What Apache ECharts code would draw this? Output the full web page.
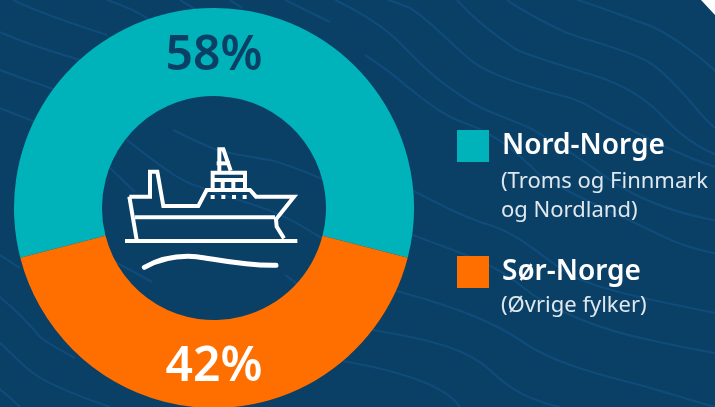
<!DOCTYPE html>
<html><head><meta charset="utf-8">
<style>html,body{margin:0;padding:0;background:#0a3f66}#c{width:715px;height:407px}</style>
<script src="https://cdn.jsdelivr.net/npm/echarts@6/dist/echarts.min.js"></script>
</head><body><div id="c"></div>
<script>
const categories = ['Nord-Norge', 'Sør-Norge'];
const shares = [58, 42];
const subtitles = ['(Troms og Finnmark\nog Nordland)', '(Øvrige fylker)'];
const sliceColors = ['#00b2b9', '#ff6f00'];
const labelColors = ['#0a3f66', '#ffffff'];
const labelShift = [7, 0];

const wavePaths = [
 'M13 0C33 10 67 22 107 35',
 'M-5 30C33 47 55 52 80 60',
 'M-5 68C20 78 40 84 55 90',
 'M-5 106C12 113 25 118 35 122',
 'M107 0C125 6 137 11 150 20',
 'M180 0C185 3 190 6 195 9',
 'M230 0C234 3 238 5 242 8',
 'M285 0C300 7 315 15 330 22',
 'M388 0C395 2 400 4 410 8C433 23 447 40 467 57C482 72 520 85 567 97C585 102 595 110 607 117C640 135 690 160 725 170',
 'M457 0C470 14 483 27 517 50C540 60 580 70 607 80C625 87 645 97 663 117C680 135 700 150 725 158',
 'M507 0C520 9 533 17 567 33C585 40 630 50 650 63C665 72 685 95 700 113C708 122 716 130 725 135',
 'M577 0C595 5 613 12 653 27C670 35 700 55 725 80',
 'M335 0C360 12 385 28 400 43C420 63 430 75 460 95C480 110 500 115 530 128C560 145 590 165 610 180C640 200 680 215 725 222',
 'M365 55C380 65 395 75 405 85C425 100 440 115 470 125C495 135 515 150 540 175C570 195 620 215 660 235C680 245 705 252 725 255',
 'M412 190C440 205 470 220 490 225C520 235 540 255 570 275C600 290 650 300 725 315',
 'M405 232C450 250 490 260 520 285C550 310 600 330 650 340C680 347 700 350 725 355',
 'M385 288C450 305 490 320 520 340C550 362 600 375 640 385C665 392 690 400 715 407',
 'M360 328C440 340 470 352 490 370C510 390 530 400 560 407',
 'M325 358C400 370 445 385 460 407',
 'M-5 252C5 258 12 263 20 268',
 'M-5 293C10 305 25 318 40 337C50 345 60 350 75 358',
 'M-5 338C10 352 20 363 33 373C45 382 75 395 110 407',
 'M-5 386C5 392 12 400 20 407',
 'M110 168C118 175 125 183 135 192',
 'M127 140C140 150 155 162 167 170C180 180 190 184 200 187C220 195 240 200 260 207C285 215 305 228 325 240',
 'M173 130C190 138 205 146 217 150C235 155 255 157 270 160C290 165 305 172 325 180',
 'M115 262C127 268 140 275 152 282',
 'M285 275C295 282 305 290 315 298'
];
const shipPaths = [
 'M88 200H150V125H172L190 228H295L320 180H450L468 200H582L528 268L530 290L552 325',
 'M88 200L110 330','M105 262H525','M75 333H592',
 'M338 178V128H435V178','M342 150H432','M368 150V178','M400 150V178',
 'M358 125L358 58H370L392 122','M350 100H390'
];
const shipSwell = 'M133 412C190 380 240 376 290 380C350 388 430 408 528 406';
const shipDots = [338, 370, 402, 434];

let shapeCount = 0;
function pathEl(d, props) {
  const name = 'deco' + (shapeCount++);
  echarts.graphic.registerShape(name, echarts.graphic.extendPath(d, {}));
  return { type: name, silent: true, ...props };
}

function ship() {
  const toReal = { x: 100, y: 130, scaleX: 1/3, scaleY: 1/3, z: 20 };
  const style = { stroke: '#fff', lineWidth: 12, fill: null, lineJoin: 'miter', lineCap: 'butt' };
  const out = shipPaths.map(p => pathEl(p, { ...toReal, style }));
  out.push(pathEl(shipSwell, { ...toReal, style: { ...style, lineWidth: 15, lineCap: 'round' } }));
  shipDots.forEach(x => out.push({ type: 'rect', ...toReal, shape: { x: x - 6, y: 195, width: 12, height: 12 }, style: { fill: '#fff' } }));
  return out;
}

const chart = echarts.init(document.getElementById('c'), null, { renderer: 'canvas' });
const FONT = '"Noto Sans", sans-serif';
chart.setOption({
  animation: false,
  backgroundColor: '#0a3f66',
  legend: {
    orient: 'vertical', left: 457, top: 130, itemWidth: 32, itemHeight: 32, itemGap: 94,
    icon: 'rect', selectedMode: false, padding: 0,
    textStyle: { color: '#fff', fontSize: 28, fontWeight: 600, fontFamily: FONT, padding: [4, 0, 0, 8] },
    data: categories
  },
  series: [{
    type: 'pie', center: [214, 208], radius: [112, 200], startAngle: 194.4, clockwise: true,
    silent: true, z: 5,
    data: categories.map((name, i) => ({
      name, value: shares[i], itemStyle: { color: sliceColors[i] },
      label: { color: labelColors[i], offset: [0, labelShift[i]] }
    })),
    label: { show: true, position: 'inside', formatter: '{c}%', fontSize: 48, fontWeight: 600, fontFamily: FONT },
    labelLine: { show: false }
  }],
  graphic: [
    ...wavePaths.map(p => pathEl(p, { z: -10, style: { stroke: '#0f4c7a', lineWidth: 2.2, fill: null } })),
    { type: 'polygon', z: 30, shape: { points: [[701, 0], [715, 0], [715, 15]] }, style: { fill: '#fff' } },
    ...ship(),
    { type: 'text', x: 501, y: 167, z: 20, style: { text: subtitles[0], fill: '#dfe8ee', fontSize: 22, lineHeight: 29, fontFamily: FONT } },
    { type: 'text', x: 501, y: 291, z: 20, style: { text: subtitles[1], fill: '#dfe8ee', fontSize: 22, lineHeight: 29, fontFamily: FONT } }
  ]
});
</script></body></html>
